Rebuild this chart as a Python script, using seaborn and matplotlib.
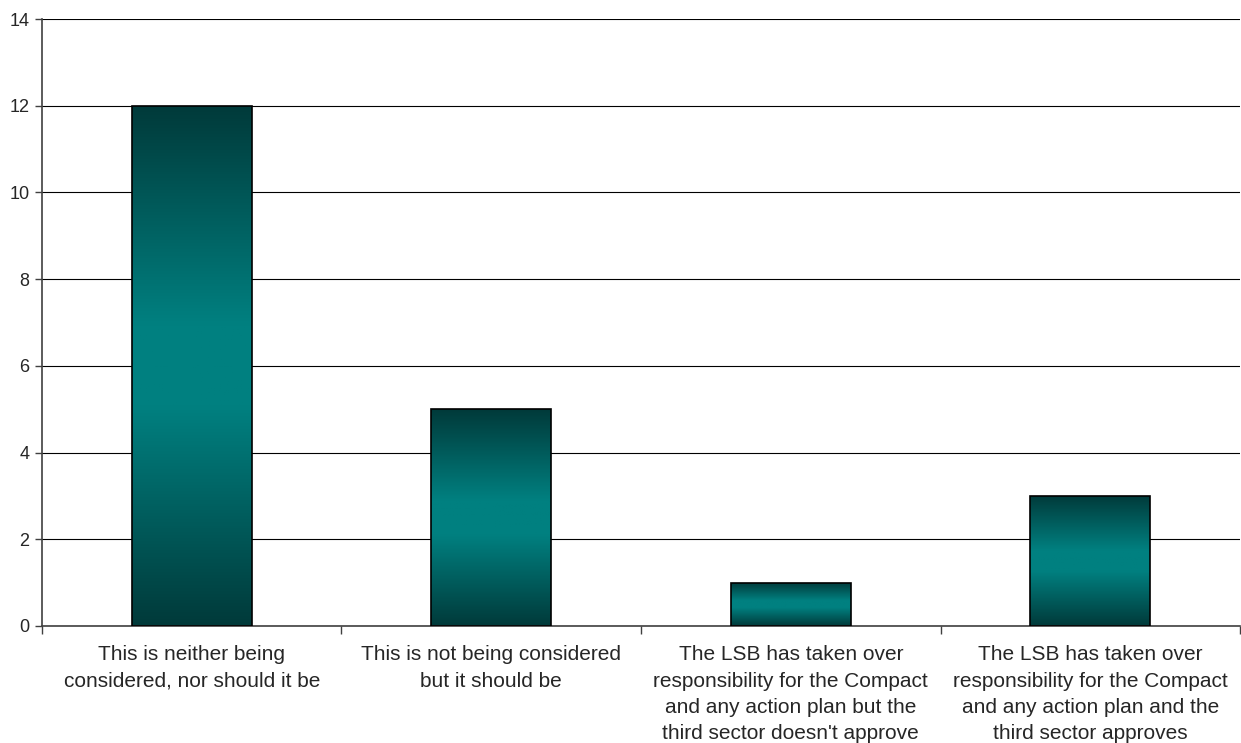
import matplotlib
matplotlib.use("Agg")
import matplotlib.pyplot as plt
import seaborn as sns
import pandas as pd
import numpy as np
from matplotlib.colors import LinearSegmentedColormap

categories = [
    "This is neither being\nconsidered, nor should it be",
    "This is not being considered\nbut it should be",
    "The LSB has taken over\nresponsibility for the Compact\nand any action plan but the\nthird sector doesn't approve",
    "The LSB has taken over\nresponsibility for the Compact\nand any action plan and the\nthird sector approves",
]
counts = [12, 5, 1, 3]
y_ticks = [0, 2, 4, 6, 8, 10, 12, 14]

sns.set_style("white")
plt.rcParams["font.family"] = ["Liberation Sans", "DejaVu Sans"]

df = pd.DataFrame({"category": categories, "count": counts})

fig = plt.figure(figsize=(12.41, 7.43), dpi=100)
ax = fig.add_axes([0.0338, 0.1575, 0.9655, 0.8169])

sns.barplot(data=df, x="category", y="count", ax=ax, width=0.4,
            color="#008080", edgecolor="black", linewidth=1.2, zorder=3)

# vertical gradient: dark at top and bottom, teal in the middle
cmap = LinearSegmentedColormap.from_list(
    "teal_band", [(0.0, "#003a3a"), (0.42, "#008080"), (0.58, "#008080"), (1.0, "#003a3a")])
grad = np.linspace(0, 1, 256).reshape(-1, 1)
for bar in ax.patches:
    x0, y0 = bar.get_x(), bar.get_y()
    w, h = bar.get_width(), bar.get_height()
    bar.set_facecolor("none")
    im = ax.imshow(grad, cmap=cmap, aspect="auto", extent=[x0, x0 + w, y0, y0 + h],
                   origin="lower", zorder=2)
    im.set_clip_path(bar)

ax.set_xlim(-0.5, len(categories) - 0.5)
ax.set_ylim(0, 14)
ax.set_yticks(y_ticks)
ax.yaxis.grid(True, color="#000000", linewidth=0.8, zorder=0)
ax.set_axisbelow(True)

ax.set_xticks(np.arange(len(categories)))
ax.set_xticklabels(categories, fontsize=15, linespacing=1.49)
ax.tick_params(axis="x", length=0, pad=14)
# category boundary tick marks
ax.set_xticks(np.arange(len(categories) + 1) - 0.5, minor=True)
ax.tick_params(axis="x", which="minor", length=6, width=1, color="#404040", direction="out", bottom=True)
ax.tick_params(axis="y", labelsize=13, length=5, width=1, color="#404040", direction="out", left=True, pad=4)

for side in ["top", "right"]:
    ax.spines[side].set_visible(False)
for side in ["left", "bottom"]:
    ax.spines[side].set_color("#404040")
    ax.spines[side].set_linewidth(1.2)

ax.set_xlabel("")
ax.set_ylabel("")

plt.savefig("out.png", dpi=100)
